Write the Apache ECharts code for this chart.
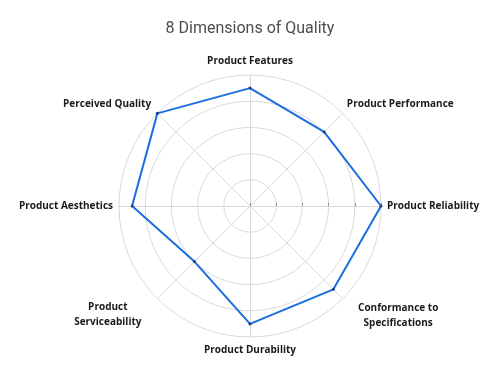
<!DOCTYPE html>
<html><head><meta charset="utf-8">
<script src="https://cdn.jsdelivr.net/npm/echarts@6/dist/echarts.min.js"></script>
<style>html,body{margin:0;padding:0;background:#fff}#c{width:500px;height:384px}</style>
</head><body><div id="c"></div>
<script>
// Categories in clockwise order starting from top
var categories = ['Product Features','Product Performance','Product Reliability','Conformance to\nSpecifications','Product Durability','Product\nServiceability','Product Aesthetics','Perceived Quality'];
var values = [9, 8, 10, 9, 9, 6, 9, 10];
var maxValue = 10;

// ECharts radar places indicators counterclockwise; reorder
var order = [0,7,6,5,4,3,2,1];
var indicators = order.map(function(i){return {name: categories[i], max: maxValue, min: 0};});
var data = order.map(function(i){return values[i];});

var lowerDiag = ['Conformance to\nSpecifications', 'Product\nServiceability'];
var font = {fontFamily: 'Open Sans', fontWeight: 'bold', fontSize: 10, color: '#1a1a1a'};
function st(extra){ return Object.assign({}, font, extra); }

var chart = echarts.init(document.getElementById('c'));
chart.setOption({
  animation: false,
  title: {text: '8 Dimensions of Quality', left: 'center', top: 16,
    textStyle: {fontFamily: 'Roboto', fontWeight: 'normal', fontSize: 16, color: '#4d4d4d'}},
  radar: [{
    center: [250, 206], radius: 131, startAngle: 90, shape: 'circle', splitNumber: 5,
    indicator: indicators,
    axisName: Object.assign({}, font, {lineHeight: 15,
      formatter: function(name){
        if (lowerDiag.indexOf(name) >= 0) return '';
        if (name === 'Perceived Quality') return '{pq|' + name + '}';
        if (name === 'Product Performance') return '{pp|' + name + '}';
        return name;
      },
      rich: {
        pq: st({padding: [0, 2, 10, 0], lineHeight: 15}),
        pp: st({padding: [0, 0, 10, 0], lineHeight: 15})
      }
    }),
    nameGap: 6,
    splitArea: {show: false},
    splitLine: {lineStyle: {color: '#d9d9d9', width: 1}},
    axisLine: {lineStyle: {color: '#d9d9d9', width: 1}}
  }, {
    center: [250, 206], radius: 131, startAngle: 90, shape: 'circle', splitNumber: 5,
    indicator: indicators,
    axisName: Object.assign({}, font, {lineHeight: 15,
      formatter: function(name){
        if (lowerDiag.indexOf(name) < 0) return '';
        var key = name.indexOf('Conformance') === 0 ? 'c' : 's';
        return name.split('\n').map(function(l){return '{' + key + '|' + l + '}';}).join('\n');
      },
      rich: {
        c: st({width: 80, align: 'center', lineHeight: 15, padding: [3, 0, 0, 0]}),
        s: st({width: 68, align: 'center', lineHeight: 15})
      }
    }),
    nameGap: 22,
    splitArea: {show: false},
    splitLine: {show: false},
    axisLine: {show: false},
    axisTick: {show: false}
  }],
  polar: {center: [250, 206], radius: 131},
  angleAxis: {show: false, startAngle: 0, min: 0, max: 360},
  radiusAxis: {min: 0, max: maxValue, interval: 2,
    axisLine: {show: true, lineStyle: {color: '#a0a0a0', width: 1}},
    axisTick: {show: true, length: 3, lineStyle: {color: '#909090'}},
    axisLabel: {show: false}, splitLine: {show: false}},
  series: [{
    type: 'radar', radarIndex: 0,
    symbol: 'circle', symbolSize: 3,
    lineStyle: {color: '#1a6ee0', width: 2},
    itemStyle: {color: '#1f3f80'},
    data: [{value: data}]
  }]
});
</script></body></html>
